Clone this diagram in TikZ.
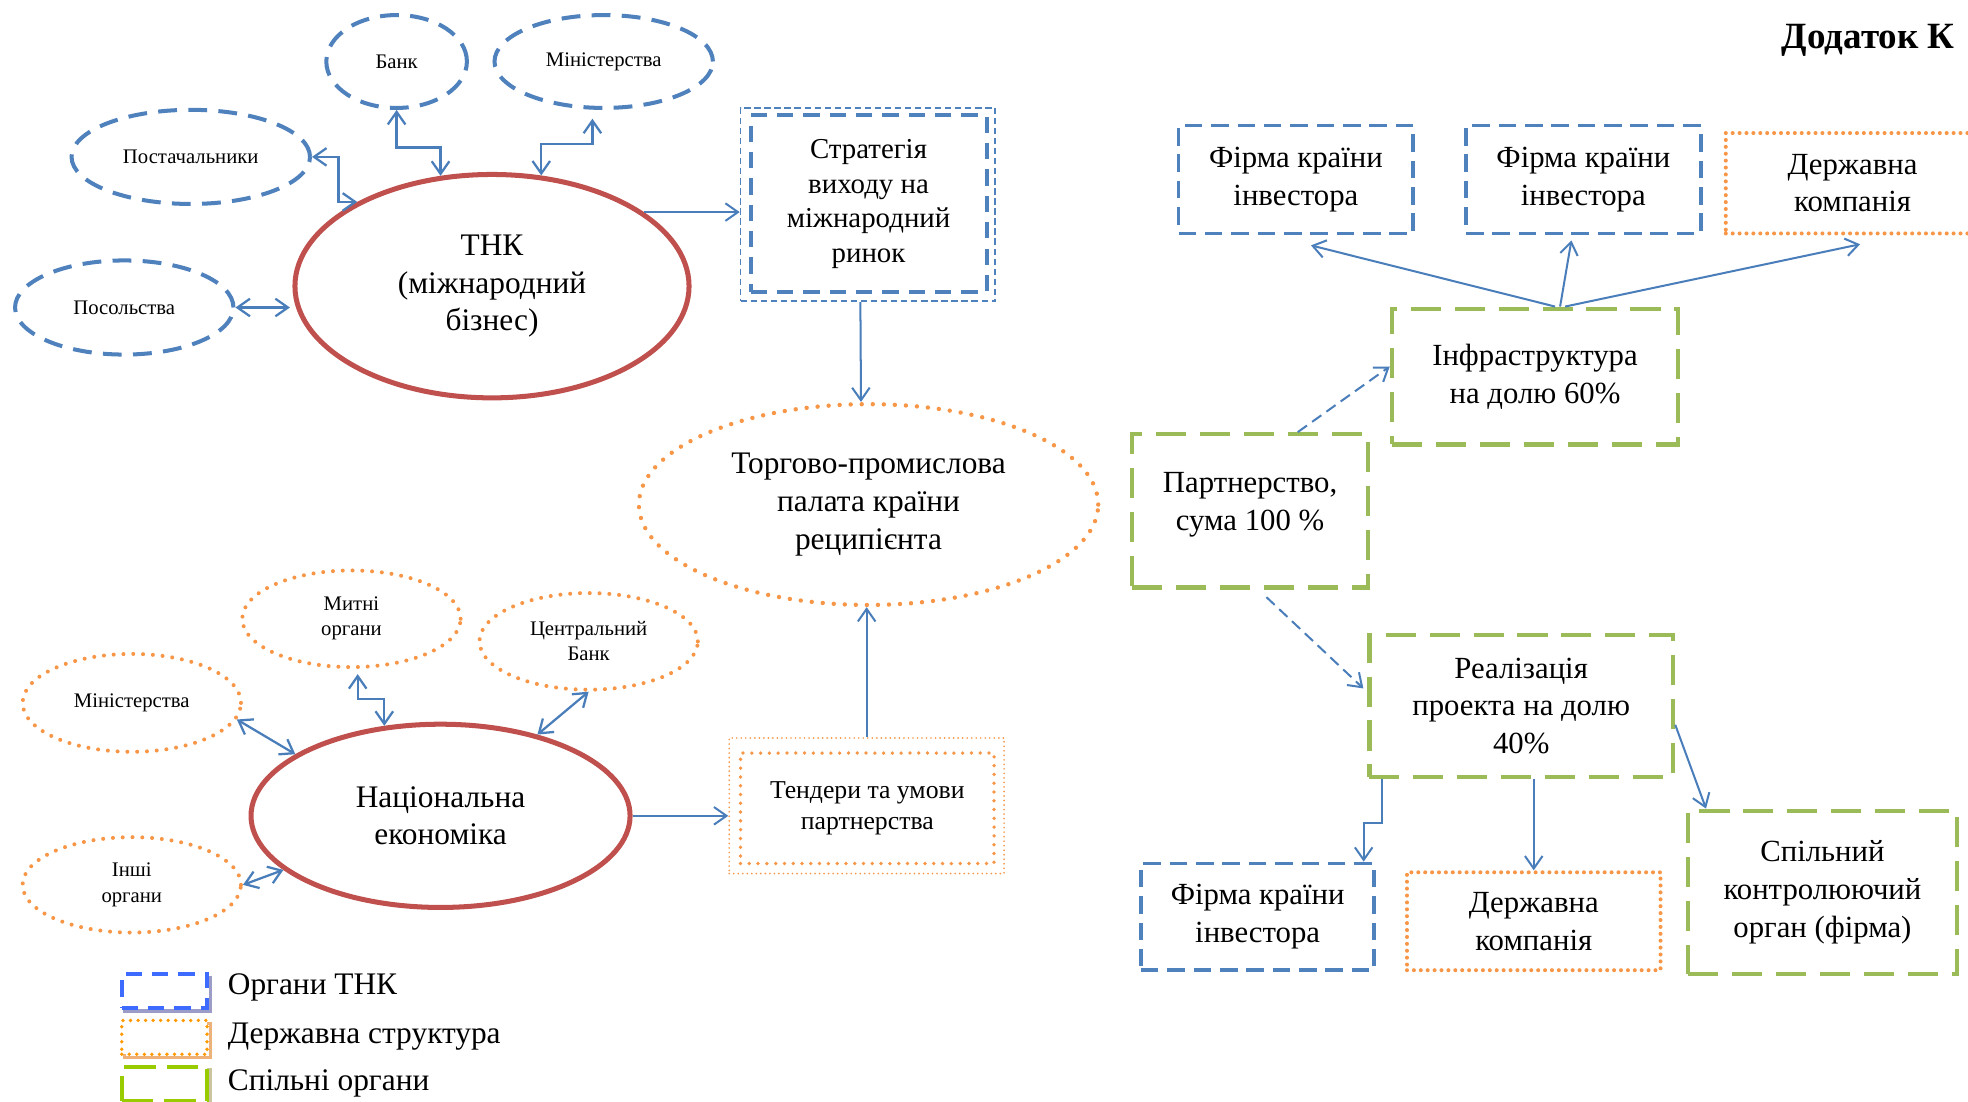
\documentclass[tikz,border=0pt]{standalone}
\usepackage{fontspec}
\setmainfont{Liberation Serif}
\usetikzlibrary{shapes.geometric,arrows.meta}

\definecolor{tnkblue}{HTML}{4F81BD}
\definecolor{linkblue}{HTML}{4A7EBB}
\definecolor{corered}{HTML}{C0504D}
\definecolor{govorange}{HTML}{F79646}
\definecolor{jointgreen}{HTML}{9BBB59}
\definecolor{legblue}{HTML}{3D6BFF}
\definecolor{legorange}{HTML}{FF9900}
\definecolor{leggreen}{HTML}{99CC00}

\newcommand\fntS{\fontsize{16.5}{20}\selectfont}
\newcommand\fntM{\fontsize{23}{27.5}\selectfont}
\newcommand\fntL{\fontsize{25}{30}\selectfont}
\newcommand\fntT{\fontsize{20.5}{25}\selectfont}
\newcommand\fntB{\fontsize{24.5}{30}\selectfont}
\newcommand\fntD{\fontsize{29.5}{33}\selectfont}

\tikzset{
  sz/.style 2 args={minimum width=#1pt, minimum height=#2pt},
  tnkoval/.style={ellipse, draw=tnkblue, line width=3.2pt,
    dash pattern=on 15pt off 9pt, inner sep=0pt, align=center, font=\fntS},
  govoval/.style={ellipse, draw=govorange, line width=3.2pt, line cap=round,
    dash pattern=on 0pt off 7.8pt, inner sep=0pt, align=center, font=\fntS},
  coreoval/.style={ellipse, draw=corered, line width=4pt, inner sep=0pt,
    align=center, font=\fntL},
  tnkbox/.style={rectangle, draw=tnkblue, line width=3pt,
    dash pattern=on 14pt off 7pt, inner sep=0pt, align=center, font=\fntB},
  govbox/.style={rectangle, draw=govorange, line width=3.2pt, line cap=round,
    dash pattern=on 0pt off 5.5pt, inner sep=0pt, align=center, font=\fntB},
  jointbox/.style={rectangle, draw=jointgreen, line width=3.5pt,
    dash pattern=on 24pt off 11pt, inner sep=0pt, align=center, font=\fntB},
  link/.style={draw=linkblue, line width=1.6pt,
    -{Straight Barb[length=10pt,width=14pt]}},
  dlink/.style={draw=linkblue, line width=1.8pt,
    {Straight Barb[length=10pt,width=14pt]}-{Straight Barb[length=10pt,width=14pt]}},
  dashlink/.style={link, dash pattern=on 9pt off 5pt},
  legbox/.style={rectangle, inner sep=0pt, minimum width=68pt, minimum height=27pt},
  legshadow/.style={legbox, line width=2.5pt},
  legtext/.style={anchor=west, font=\fntL},
}

\begin{document}
\begin{tikzpicture}[x=1pt,y=-1pt]
\path[fill=white] (0,0) rectangle (1568,878);
\useasboundingbox (0,0) rectangle (1568,878);

% ---- TNK side ----
\node[tnkoval, sz={112}{74}] (bank) at (316,49) {Банк};
\node[tnkoval, sz={174}{74}] (minT) at (481,49) {Міністерства};
\node[tnkoval, sz={190}{75}] (post) at (152,125) {Постачальники};
\node[tnkoval, sz={174}{75}] (posol) at (99,245) {Посольства};
\node[coreoval, sz={314}{178}] (tnk) at (392,228) {ТНК\\(міжнародний\\бізнес)};

\node[rectangle, draw=tnkblue, line width=1.3pt, dash pattern=on 5pt off 3pt,
  sz={203}{154}, inner sep=0pt] (stratO) at (691.5,163) {};
\node[rectangle, draw=tnkblue, line width=3.2pt, dash pattern=on 13pt off 8pt,
  sz={188}{141}, inner sep=0pt, align=center, font=\fntM] (strat) at (692,162.5)
  {Стратегія\\виходу на\\міжнародний\\ринок};

% ---- chamber of commerce ----
\node[govoval, line width=3.5pt, dash pattern=on 0pt off 8.8pt, sz={366}{160},
  font=\fntL] (torg) at (692,402) {Торгово-промислова\\палата країни\\реципієнта};

% ---- national economy side ----
\node[govoval, sz={174}{77}] (mytni) at (280,493) {Митні\\органи};
\node[govoval, sz={174}{77}] (cbank) at (469,511) {Центральний\\Банк};
\node[govoval, sz={174}{78}] (minS) at (105,560) {Міністерства};
\node[govoval, sz={174}{76}] (inshi) at (105,705) {Інші\\органи};
\node[coreoval, sz={302}{146}] (nat) at (351,650) {Національна\\економіка};

\node[rectangle, draw=govorange, line width=1.5pt, line cap=round,
  dash pattern=on 0pt off 3.6pt, sz={219}{108}, inner sep=0pt] (tendO) at (690.5,642) {};
\node[rectangle, draw=govorange, line width=3pt, line cap=round,
  dash pattern=on 0pt off 7pt, sz={202}{88}, inner sep=0pt, align=center,
  font=\fntT] (tend) at (691,644) {Тендери та умови\\партнерства};

% ---- partnership side ----
\node[tnkbox, sz={187}{86}] (f1) at (1032.5,143) {Фірма країни\\інвестора};
\node[tnkbox, sz={187}{86}] (f2) at (1261.5,143) {Фірма країни\\інвестора};
\node[govbox, sz={202}{80}] (dk1) at (1476,146) {Державна\\компанія};
\node[jointbox, sz={228}{108}] (infra) at (1223,300) {Інфраструктура\\на долю 60\%};
\node[jointbox, sz={188}{122}, text depth=15pt] (partner) at (996,407) {Партнерство,\\сума 100 \%};
\node[jointbox, sz={242}{113}] (real) at (1212,562.5) {Реалізація\\проекта на долю\\40\%};
\node[tnkbox, sz={186}{85}] (f3) at (1002,730.5) {Фірма країни\\інвестора};
\node[govbox, sz={202}{78}] (dk2) at (1222,734) {Державна\\компанія};
\node[jointbox, sz={214}{130}] (spil) at (1452,711) {Спільний\\контролюючий\\орган (фірма)};

\node[anchor=east, font=\fntD\bfseries] (dod) at (1561,32) {Додаток К};

% ---- connectors: TNK ----
\draw[dlink] (bank.south) -- ++(0,30) -| (tnk.115);
\draw[dlink] ([xshift=-9pt,yshift=-7pt]minT.south) -- ++(0,20) -| (tnk.66);
\draw[dlink] (post.east) -- ++(21,0) |- (tnk.148);
\draw[dlink, shorten >=2pt] (posol.east) -- (posol.east -| tnk.west);
\draw[link] (tnk.26) -- (tnk.26 -| stratO.west);
\draw[link] ([xshift=-6pt]stratO.south) -- ([xshift=-6pt]torg.north);

% ---- connectors: national economy ----
\draw[dlink] ([xshift=5pt,yshift=-4pt]mytni.south) -- ++(0,20) -| (nat.122);
\draw[dlink] (cbank.south) -- (nat.40);
\draw[dlink] (minS.-9) -- (nat.157);
\draw[dlink] (inshi.east) -- (nat.199);
\draw[link] (nat.east) -- (nat.east -| tendO.west);
\draw[link] (tendO.north) -- (tendO.north |- torg.south);

% ---- connectors: partnership ----
\draw[link] ([xshift=16pt]infra.north) -- ([xshift=12pt,yshift=-8pt]f1.south);
\draw[link] ([xshift=20pt]infra.north) -- ([xshift=-9.5pt,yshift=-4pt]f2.south);
\draw[link] ([xshift=24pt]infra.north) -- ([xshift=6pt,yshift=-7pt]dk1.south);
\draw[dashlink] ([xshift=38pt]partner.north) -- ([yshift=8pt]infra.west);
\draw[dashlink] ([xshift=13pt,yshift=-6pt]partner.south) -- ([xshift=-3pt,yshift=14pt]real.west);
\draw[link] ([xshift=12pt]real.south west) -- ++(0,35) -| ([xshift=-10pt]f3.north east);
\draw[link] (dk2.north |- real.south) -- (dk2.north);
\draw[link] ([yshift=-15pt]real.east) -- ([xshift=16pt]spil.north west);

% ---- legend ----
\node[legshadow, draw=gray!70!blue!60] (legTs) at (133.5,792) {};
\node[legbox, fill=white, draw=legblue, line width=3pt, dash pattern=on 13pt off 8pt] (legT) at (131,789.5) {};
\node[legtext] (legTt) at (178,787) {Органи ТНК};
\node[legshadow, draw=brown!50!orange!60] (legGs) at (133.5,829) {};
\node[legbox, fill=white, draw=legorange, line width=3pt, line cap=round, dash pattern=on 0pt off 6pt] (legG) at (131,826.5) {};
\node[legtext] (legGt) at (178,826) {Державна структура};
\node[legshadow, draw=gray!60!olive!50] (legJs) at (133.5,866) {};
\node[legbox, fill=white, draw=leggreen, line width=3pt, dash pattern=on 25pt off 9pt] (legJ) at (131,863.5) {};
\node[legtext] (legJt) at (178,863) {Спільні органи};
\end{tikzpicture}
\end{document}
